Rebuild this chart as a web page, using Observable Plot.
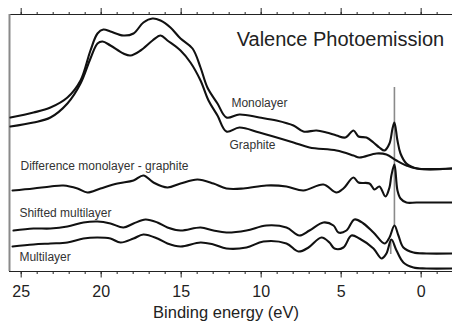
<!DOCTYPE html>
<html>
<head>
<meta charset="utf-8">
<script src="https://cdn.jsdelivr.net/npm/d3@7"></script>
<script src="https://cdn.jsdelivr.net/npm/@observablehq/plot@0.6"></script>
<style>
  html, body { margin: 0; padding: 0; background: #fff; }
  #chart svg { display: block; }
</style>
</head>
<body>
<div id="chart"></div>
<script>
// Binding energy (eV) and intensity (arbitrary, offset) for each spectrum
const monolayerEnergy = [25.67,24.23,23.17,22.11,21.29,20.67,20.23,19.86,19.42,18.61,17.98,17.36,16.79,16.29,15.67,15.04,14.29,13.79,13.36,12.73,12.17,11.36,10.11,9.04,7.98,7.36,6.54,5.92,5.29,4.73,4.23,3.92,3.42,2.98,2.61,2.29,1.98,1.79,1.67,1.48,1.29,0.92,0.23,-1.96];
const monolayerIntensity = [154,159,164,174,191,221,238,242,240,236,238,249,253,251,244,233,223,204,184,168,154,157,154,151,146,140,141,139,136,134,141,135,134,129,124,121,128,143,149,131,118,108,103,103];

const graphiteEnergy = [25.67,24.23,23.17,22.11,21.29,20.67,20.23,19.92,19.42,18.61,18.17,17.54,16.79,16.29,15.86,15.04,14.42,13.79,13.29,12.73,12.17,11.36,10.11,7.98,6.98,5.29,4.23,3.86,2.79,2.17,1.54,0.92,0.29,-1.96];
const graphiteIntensity = [145,149,154,168,188,213,228,230,226,218,216,221,231,236,231,221,209,191,171,156,140,144,139,129,124,121,116,114,118,117,111,106,103,103];

const differenceEnergy = [25.54,24.23,23.17,22.36,21.48,20.86,20.04,18.98,17.98,17.36,16.73,15.86,15.04,13.98,12.98,12.17,11.11,9.67,8.42,7.36,6.11,5.29,4.86,4.23,3.92,3.23,2.92,2.61,2.23,1.98,1.86,1.67,1.48,1.29,0.92,0.29,-1.96];
const differenceIntensity = [81,83,85,86,83,79,83,88,91,96,89,84,88,92,88,83,83,86,85,81,87,79,83,94,89,88,82,85,75,84,96,107,81,73,69,69,69];

const shiftedEnergy = [25.48,24.23,23.17,22.11,21.11,20.23,19.42,18.61,17.98,17.23,16.48,15.86,15.04,13.79,12.98,12.17,10.92,9.67,8.42,7.61,6.98,6.11,5.48,5.17,4.67,4.17,3.61,2.98,2.29,1.98,1.67,1.42,1.11,0.48,-0.33,-1.96];
const shiftedIntensity = [41,43,43,45,49,50,48,44,48,52,49,44,41,44,41,39,41,46,44,36,41,49,46,39,41,52,48,39,28,34,46,36,24,19,18,18];

const multilayerEnergy = [25.54,24.23,23.17,22.11,21.11,20.23,19.42,18.79,17.98,17.36,16.48,15.86,15.04,13.79,12.98,12.17,10.92,9.86,8.42,7.67,7.04,6.23,5.73,5.42,4.86,4.36,3.86,2.98,2.48,2.17,1.86,1.54,1.11,0.48,-0.33,-1.96];
const multilayerIntensity = [25,27,28,29,33,34,33,29,33,37,33,28,25,29,27,23,24,30,28,20,24,34,29,23,24,36,33,23,13,18,32,21,9,4,3,3];

// Peak-position markers (gray vertical lines)
const markerEnergy = [1.67, 1.9];
const markerLow = [46, 17];
const markerHigh = [184, 32];

// Text labels
const labelText = ["Monolayer", "Graphite", "Difference monolayer - graphite", "Shifted multilayer", "Multilayer"];
const labelEnergy = [11.86, 11.98, 25.04, 25.11, 25.11];
const labelIntensity = [168, 126, 105, 58, 14];

const titleText = "Valence Photoemission";
const xLabel = "Binding energy (eV)";
const majorTicks = [25, 20, 15, 10, 5, 0];
const minorTicks = d3.range(-1, 26);
const xDomain = [25.73, -1.96];
const yDomain = [0, 257];

const series = [
  {e: monolayerEnergy, v: monolayerIntensity},
  {e: graphiteEnergy, v: graphiteIntensity},
  {e: differenceEnergy, v: differenceIntensity},
  {e: shiftedEnergy, v: shiftedIntensity},
  {e: multilayerEnergy, v: multilayerIntensity}
];
const rows = series.flatMap((s, k) => s.e.map((e, i) => ({k, e, v: s.v[i]})));
const markers = markerEnergy.map((e, i) => ({e, lo: markerLow[i], hi: markerHigh[i]}));
const labels = labelText.map((t, i) => ({t, e: labelEnergy[i], v: labelIntensity[i]}));

const font = "Liberation Sans, Arial, Helvetica, sans-serif";

const chart = Plot.plot({
  width: 452,
  height: 322,
  marginTop: 14,
  marginBottom: 51,
  marginLeft: 9,
  marginRight: 0,
  style: {fontFamily: font, background: "#fff", overflow: "visible"},
  x: {domain: xDomain},
  y: {domain: yDomain, axis: null},
  marks: [
    Plot.axisX(minorTicks, {anchor: "bottom", tickSize: 3, tickFormat: () => "", label: null, stroke: "#222"}),
    Plot.axisX(majorTicks, {anchor: "bottom", tickSize: 6.5, tickPadding: 8, fontSize: 16, fill: "#222", stroke: "#222", label: null}),
    Plot.axisX(minorTicks, {anchor: "top", tickSize: 3, tickFormat: () => "", label: null, stroke: "#222"}),
    Plot.axisX(majorTicks, {anchor: "top", tickSize: 7, tickFormat: () => "", label: null, stroke: "#222"}),
    Plot.ruleY([0], {stroke: "#222", strokeWidth: 1}),
    Plot.ruleY([yDomain[1]], {stroke: "#222", strokeWidth: 1}),
    Plot.ruleX([xDomain[0]], {stroke: "#8a8a8a", strokeWidth: 2}),
    Plot.ruleX(markers, {x: "e", y1: "lo", y2: "hi", stroke: "#8a8a8a", strokeWidth: 1.6}),
    Plot.line(rows, {x: "e", y: "v", z: "k", stroke: "#111", strokeWidth: 2.1, curve: "catmull-rom"}),
    Plot.text(labels, {x: "e", y: "v", text: "t", textAnchor: "start", fontSize: 12, fill: "#333"}),
    Plot.text([titleText], {x: 11.53, y: 232, textAnchor: "start", fontSize: 20, fill: "#222"}),
    Plot.text([xLabel], {frameAnchor: "bottom", dy: 46, dx: -5, fontSize: 16.5, fill: "#222"})
  ]
});
document.getElementById("chart").appendChild(chart);
</script>
</body>
</html>
